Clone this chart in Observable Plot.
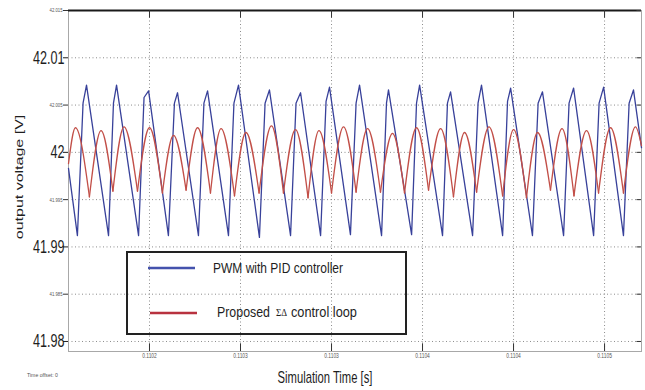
<!DOCTYPE html>
<html><head><meta charset="utf-8">
<script src="https://cdn.jsdelivr.net/npm/d3@7"></script>
<script src="https://cdn.jsdelivr.net/npm/@observablehq/plot@0.6"></script>
<style>
html,body{margin:0;padding:0;background:#fff;}
#chart{width:645px;height:390px;position:relative;}
</style></head><body><div id="chart"></div>
<script>
// time in microseconds after 0.11 s
const blueT = [155.5,160.4,163.5,165.4,177.5,180.2,181.9,194.0,197.0,199.5,210.4,213.7,215.4,226.9,229.9,231.9,243.4,246.4,248.9,260.4,263.5,265.9,277.5,280.5,283.0,294.0,297.0,298.9,310.4,313.5,315.4,327.5,330.2,331.3,344.0,346.7,348.4,361.0,363.7,365.4,377.5,380.5,382.4,394.0,396.7,398.4,410.4,413.5,415.9,427.5,430.5,433.0,444.0,447.0,449.5,460.4,463.5,465.9,470.3];
const blueV = [41.9983,41.9912,42.0052,42.0071,41.9912,42.0052,42.0071,41.9912,42.0058,42.0065,41.9912,42.0052,42.0063,41.9912,42.0052,42.0065,41.9912,42.0052,42.0071,41.9910,42.0052,42.0066,41.9912,42.0052,42.0063,41.9912,42.0054,42.0069,41.9913,42.0052,42.0071,41.9912,42.0052,42.0066,41.9913,42.0052,42.0071,41.9912,42.0052,42.0064,41.9912,42.0052,42.0071,41.9912,42.0054,42.0068,41.9912,42.0052,42.0064,41.9912,42.0052,42.0068,41.9912,42.0052,42.0069,41.9912,42.0052,42.0066,42.0005];
// red: alternating extremes (start, peak, trough, peak, ..., end)
const redT = [155.5,159.3,167.0,173.4,179.9,186.0,193.4,200.0,207.1,213.2,220.1,226.4,233.5,239.3,246.7,253.0,260.2,267.0,273.6,280.2,287.1,293.1,300.0,306.6,313.5,319.8,326.9,333.5,340.1,346.7,353.3,359.9,367.0,373.1,379.7,386.5,394.0,400.0,407.1,413.2,420.3,426.6,433.2,440.1,446.7,453.3,460.4,467.0,470.3];
const redV = [41.9988,42.0026,41.9953,42.0023,41.9959,42.0027,41.9959,42.0026,41.9957,42.0018,41.9960,42.0026,41.9957,42.0025,41.9954,42.0021,41.9957,42.0028,41.9957,42.0024,41.9952,42.0023,41.9957,42.0027,41.9958,42.0025,41.9958,42.0020,41.9957,42.0026,41.9960,42.0025,41.9953,42.0021,41.9958,42.0027,41.9954,42.0024,41.9952,42.0021,41.9960,42.0025,41.9954,42.0023,41.9957,42.0026,41.9957,42.0027,42.0007];

const xTicks = [200,250,300,350,400,450];
const xTickLabels = ["0.1102","0.1103","0.1103","0.1104","0.1104","0.1105"];
const yMajorTicks = [41.98,41.99,42,42.01];
const yMajorLabels = ["41.98","41.99","42","42.01"];
const yMinorTicks = [41.985,41.995,42.005,42.015];
const yMinorLabels = ["41.985","41.995","42.005","42.015"];
const seriesNames = ["PWM with PID controller","Proposed", "ΣΔ", "control loop"];
const seriesColors = ["#38419a","#c24f48"];
const xTitle = "Simulation Time [s]";
const yTitle = "output voltage [V]";
const timeOffsetNote = "Time offset: 0";

const FONT = "'Liberation Sans', Arial, Helvetica, sans-serif";
const blue = blueT.map((t,i)=>({t, v: blueV[i]}));
const redArcs = [];
for (let k = 1; k < redT.length - 1; k += 2) {
  for (const j of [k-1, k, k+1]) redArcs.push({t: redT[j], v: redV[j], arc: k});
}
const xDom = [155.5, 470.3], yDom = [41.97894, 42.015];
const allY = [...yMajorTicks, ...yMinorTicks].sort((a,b)=>a-b);
const dotted = {stroke:"#8c8c8c", strokeOpacity:1, strokeDasharray:"1,2.5", strokeWidth:1};

const plot = Plot.plot({
  width:645, height:390, marginLeft:68, marginRight:4, marginTop:10, marginBottom:39,
  style:{background:"#fff", overflow:"visible", fontFamily: FONT},
  x:{domain:xDom, label:null}, y:{domain:yDom, label:null},
  marks:[
    Plot.gridY(allY, dotted),
    Plot.gridX(xTicks, dotted),
    Plot.frame({stroke:"#a8a8a8"}),
    Plot.ruleY([yDom[1]], {stroke:"#1a1a1a", strokeWidth:2}),
    Plot.ruleX(xTicks, {y1: yDom[0], y2: yDom[0] + 0.0008, stroke:"#333"}),
    Plot.ruleX(xTicks, {y1: yDom[1], y2: yDom[1] - 0.0008, stroke:"#333"}),
    Plot.ruleY(allY, {x1: xDom[1] - 2.5, x2: xDom[1], stroke:"#333"}),
    Plot.axisY(yMajorTicks, {tickFormat: d => yMajorLabels[yMajorTicks.indexOf(d)], fontSize:18, tickSize:5, tickPadding:-1, label:null, color:"#1e1e1e"}),
    Plot.axisY(yMinorTicks, {tickFormat: d => yMinorLabels[yMinorTicks.indexOf(d)], fontSize:6, tickSize:5, tickPadding:1, label:null, stroke:"#333", fill:"#555"}),
    Plot.axisX(xTicks, {tickFormat: d => xTickLabels[xTicks.indexOf(d)], fontSize:7, tickSize:0, tickPadding:2, label:null, fill:"#555"}),
    Plot.line(blue, {x:"t", y:"v", stroke: seriesColors[0], strokeWidth:1.3}),
    Plot.line(redArcs, {x:"t", y:"v", z:"arc", curve:"monotone-x", stroke: seriesColors[1], strokeWidth:1.3})
  ]
});
document.getElementById("chart").append(plot);

const svg = d3.select(plot);
svg.selectAll('g[aria-label="y-axis tick label"] text, g[aria-label="x-axis tick label"] text').each(function(){
  const L = this.getComputedTextLength();
  this.setAttribute("textLength", (L*0.7).toFixed(1));
  this.setAttribute("lengthAdjust", "spacingAndGlyphs");
});

// text squeezed horizontally (via transform) to a target width
function addText(g, x, y, str, size, len, fill, family, anchor) {
  const t = g.append("text").attr("x", 0).attr("y", 0)
    .attr("text-anchor", anchor || "start").attr("dominant-baseline", "central")
    .style("font-size", size + "px").attr("fill", fill || "#1e1e1e").text(str);
  if (family) t.style("font-family", family);
  const L = t.node().getComputedTextLength();
  const s = len ? len / L : 1;
  t.attr("transform", `translate(${x},${y}) scale(${s.toFixed(3)},1)`);
  return t;
}

// axis titles
svg.append("text")
  .attr("transform","translate(19,177) scale(0.72,1) rotate(-90)")
  .attr("text-anchor","middle").attr("dominant-baseline","central")
  .style("font-size","16px").attr("fill","#1e1e1e").text(yTitle);
addText(svg, 325, 377, xTitle, 16, 95, "#1e1e1e", null, "middle");
addText(svg, 27, 375, timeOffsetNote, 6, 31, "#555");

// legend
const lg = svg.append("g");
lg.append("rect").attr("x",127).attr("y",252).attr("width",279).attr("height",82)
  .attr("fill","none").attr("stroke","#222").attr("stroke-width",2);
lg.append("line").attr("x1",148).attr("x2",195).attr("y1",268).attr("y2",268)
  .attr("stroke","#4452ad").attr("stroke-width",2.5);
addText(lg, 213, 268, seriesNames[0], 15, 130);
lg.append("line").attr("x1",150).attr("x2",197).attr("y1",313).attr("y2",313)
  .attr("stroke","#b8323f").attr("stroke-width",2.5);
addText(lg, 217, 312, seriesNames[1], 15, 53);
addText(lg, 276, 313, seriesNames[2], 10, 11, "#1e1e1e", "'Liberation Serif','DejaVu Serif',serif");
addText(lg, 291, 312, seriesNames[3], 15, 66);
</script></body></html>
